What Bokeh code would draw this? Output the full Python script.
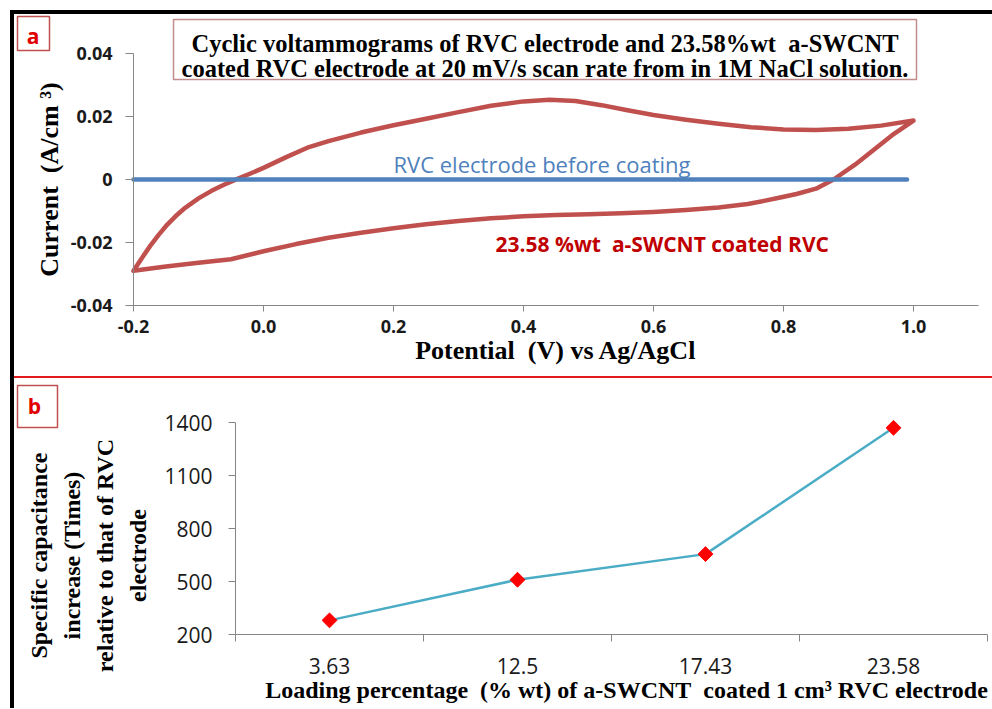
import numpy as np
from bokeh.plotting import figure
from bokeh.models import Label, FixedTicker, Range1d, Spacer, BoxAnnotation
from bokeh.layouts import column, row
from bokeh.embed import file_html
from bokeh.resources import INLINE

# ---------------- Panel a data (cyclic voltammograms) ----------------
cv_forward_potential = [-0.2, -0.187, -0.174, -0.161, -0.148, -0.135, -0.12, -0.1, -0.08, -0.06, -0.04,
                        -0.02, 0.0, 0.035, 0.07, 0.1, 0.15, 0.2, 0.25, 0.3, 0.35, 0.4, 0.44, 0.48, 0.52,
                        0.56, 0.6, 0.65, 0.7, 0.75, 0.8, 0.85, 0.9, 0.95, 1.0]
cv_forward_current = [-0.029, -0.0249, -0.021, -0.0175, -0.0143, -0.0116, -0.0089, -0.006, -0.0036, -0.0016,
                      0.0002, 0.0019, 0.0037, 0.0071, 0.0103, 0.0122, 0.0149, 0.0172, 0.0193, 0.0214, 0.0234,
                      0.0248, 0.0253, 0.0249, 0.0236, 0.022, 0.0205, 0.019, 0.0177, 0.0166, 0.0159, 0.0157,
                      0.0161, 0.0171, 0.0187]
cv_reverse_potential = [1.0, 0.97, 0.94, 0.91, 0.877, 0.85, 0.82, 0.795, 0.77, 0.745, 0.7, 0.65, 0.6, 0.55,
                        0.5, 0.45, 0.4, 0.35, 0.3, 0.25, 0.2, 0.15, 0.1, 0.05, 0.0, -0.05, -0.1, -0.15, -0.2]
cv_reverse_current = [0.0187, 0.0145, 0.0096, 0.0047, 0.0, -0.0029, -0.0046, -0.0057, -0.0068, -0.0078,
                      -0.0089, -0.0097, -0.0103, -0.0107, -0.011, -0.0113, -0.0117, -0.0123, -0.0132, -0.0142,
                      -0.0155, -0.0169, -0.0185, -0.0205, -0.0228, -0.0253, -0.0264, -0.0276, -0.029]
bare_potential = [-0.2, 0.99]
bare_current = [0.0, 0.0]

a_xticks = [-0.2, 0.0, 0.2, 0.4, 0.6, 0.8, 1.0]
a_xtick_labels = ["-0.2", "0.0", "0.2", "0.4", "0.6", "0.8", "1.0"]
a_yticks = [-0.04, -0.02, 0, 0.02, 0.04]
a_ytick_labels = ["-0.04", "-0.02", "0", "0.02", "0.04"]

# ---------------- Panel b data ----------------
loading_labels = ["3.63", "12.5", "17.43", "23.58"]
capacitance_increase = [280, 510, 655, 1370]
b_yticks = [200, 500, 800, 1100, 1400]

AX = "#868686"
SERIF = "Liberation Serif"
SANS = "Open Sans"
NB = "\u00a0"

# ---------------- geometry (pixels) ----------------
ORIGIN_X, A_TOP, B_TOP = 14, 14, 378
W, A_H, B_H = 978, 362, 330
A_L, A_R, A_T, A_B = 133, 978, 53, 305
A_XMIN, A_XMAX, A_YMIN, A_YMAX = -0.2, 1.1, -0.04, 0.04
B_L, B_R, B_T, B_B = 235, 987, 422, 634
B_XMIN, B_XMAX, B_YMIN, B_YMAX = 0, 4, 200, 1400


def make_ranges(L, R, T, B, xmin, xmax, ymin, ymax, top, h):
    sx = (xmax - xmin) / (R - L)
    sy = (ymax - ymin) / (B - T)
    xr = Range1d(xmin - (L - ORIGIN_X) * sx, xmax + (ORIGIN_X + W - R) * sx)
    yr = Range1d(ymin - (top + h - B) * sy, ymax + (T - top) * sy)
    to_x = lambda px: xmin + (px - L) * sx
    to_y = lambda py: ymax - (py - T) * sy
    return xr, yr, to_x, to_y


def style_axis(ax, font_size, bold, tick_out):
    ax.axis_line_color = AX
    ax.axis_line_width = 1
    ax.major_tick_line_color = AX
    ax.major_tick_in = 0
    ax.major_tick_out = tick_out
    ax.minor_tick_line_color = None
    ax.major_label_text_font = SANS
    ax.major_label_text_font_size = font_size
    ax.major_label_text_font_style = "bold" if bold else "normal"
    ax.major_label_text_color = "#1a1a1a"
    ax.axis_label_text_font = SERIF
    ax.axis_label_text_font_style = "bold"
    ax.axis_label_text_color = "black"


def framed_box(fig, fx, fy, l, r, t, b, color):
    fig.add_layout(BoxAnnotation(left=fx(l), right=fx(r), top=fy(t), bottom=fy(b),
                                 fill_color="white", fill_alpha=1.0,
                                 line_color=color, line_width=1.5, line_alpha=1.0))


# ---------------- Panel a ----------------
xr, yr, ax_px, ay_px = make_ranges(A_L, A_R, A_T, A_B, A_XMIN, A_XMAX, A_YMIN, A_YMAX, A_TOP, A_H)
pa = figure(width=W, height=A_H, x_range=xr, y_range=yr, output_backend="svg", toolbar_location=None,
            min_border=0)
pa.outline_line_color = None
pa.xgrid.visible = False
pa.ygrid.visible = False

pa.xaxis.fixed_location = A_YMIN
pa.xaxis.bounds = (A_XMIN, A_XMAX)
pa.yaxis.fixed_location = A_XMIN
pa.yaxis.bounds = (A_YMIN, A_YMAX)
pa.xaxis.ticker = FixedTicker(ticks=a_xticks)
pa.xaxis.major_label_overrides = dict(zip(a_xticks, a_xtick_labels))
pa.yaxis.ticker = FixedTicker(ticks=a_yticks)
pa.yaxis.major_label_overrides = dict(zip(a_yticks, a_ytick_labels))
style_axis(pa.xaxis[0], "18px", True, 6)
style_axis(pa.yaxis[0], "18px", True, 8)
pa.xaxis.major_label_standoff = 8
pa.yaxis.major_label_standoff = 13
pa.xaxis.axis_label = "Potential" + NB + " (V) vs Ag/AgCl"
pa.yaxis.axis_label = "Current" + NB + " (A/cm \u00b3)"
pa.xaxis.axis_label_text_font_size = "26px"
pa.yaxis.axis_label_text_font_size = "26px"
pa.xaxis.axis_label_standoff = 0
pa.yaxis.axis_label_standoff = 4

pa.line(cv_forward_potential + cv_reverse_potential, cv_forward_current + cv_reverse_current,
        line_color="#C0504D", line_width=4.5, line_join="round", line_cap="round")
pa.line(bare_potential, bare_current, line_color="#4F81BD", line_width=4.5, line_cap="round")

pa.add_layout(Label(x=ax_px(393), y=ay_px(163), text="RVC electrode before coating", text_font=SANS,
                    text_font_size="22px", text_color="#4F81BD", text_baseline="middle"))
pa.add_layout(Label(x=ax_px(495), y=ay_px(243.5), text="23.58 %wt" + NB + " a-SWCNT coated RVC",
                    text_font=SANS, text_font_size="21px", text_font_style="bold", text_color="#C00000",
                    text_baseline="middle"))

# title box (two lines)
framed_box(pa, ax_px, ay_px, 173, 916, 19, 79, "#C08C8C")
pa.add_layout(Label(x=ax_px(544.5), y=ay_px(42.5),
                    text="Cyclic voltammograms of RVC electrode and 23.58%wt" + NB + " a-SWCNT",
                    text_font=SERIF, text_font_size="24.5px", text_font_style="bold", text_color="black",
                    text_align="center", text_baseline="middle"))
pa.add_layout(Label(x=ax_px(544.5), y=ay_px(67.8),
                    text="coated RVC electrode at 20 mV/s scan rate from in 1M NaCl solution.",
                    text_font=SERIF, text_font_size="24.5px", text_font_style="bold", text_color="black",
                    text_align="center", text_baseline="middle"))

# panel tag "a"
framed_box(pa, ax_px, ay_px, 17, 49, 16, 50, "#C0504D")
pa.add_layout(Label(x=ax_px(32.5), y=ay_px(35), text="a", text_font=SANS, text_font_size="21px",
                    text_font_style="bold", text_color="#E00000", text_align="center",
                    text_baseline="middle"))

# ---------------- Panel b ----------------
xr, yr, bx_px, by_px = make_ranges(B_L, B_R, B_T, B_B, B_XMIN, B_XMAX, B_YMIN, B_YMAX, B_TOP, B_H)
pb = figure(width=W, height=B_H, x_range=xr, y_range=yr, output_backend="svg", toolbar_location=None,
            min_border=0)
pb.outline_line_color = None
pb.xgrid.visible = False
pb.ygrid.visible = False

cat_pos = [i + 0.5 for i in range(len(loading_labels))]
pb.xaxis.fixed_location = B_YMIN
pb.xaxis.bounds = (B_XMIN, B_XMAX)
pb.yaxis.fixed_location = B_XMIN
pb.yaxis.bounds = (B_YMIN, B_YMAX)
pb.xaxis.ticker = FixedTicker(ticks=cat_pos, minor_ticks=list(range(len(loading_labels) + 1)))
pb.xaxis.major_label_overrides = dict(zip(cat_pos, loading_labels))
pb.yaxis.ticker = FixedTicker(ticks=b_yticks)
style_axis(pb.xaxis[0], "21px", False, 0)
style_axis(pb.yaxis[0], "21px", False, 7)
pb.xaxis.minor_tick_line_color = AX
pb.xaxis.minor_tick_in = 0
pb.xaxis.minor_tick_out = 7
pb.xaxis.major_label_standoff = 16
pb.yaxis.major_label_standoff = 16

pad_lead = NB * 5
pad_trail = NB * 9
pb.xaxis.axis_label = (pad_lead + "Loading percentage" + NB + " (% wt) of a-SWCNT" + NB +
                       " coated 1 cm\u00b3 RVC electrode")
pb.yaxis.axis_label = "\n".join(line + pad_trail for line in
                                ["Specific capacitance", "increase (Times)", "relative to that of RVC",
                                 "electrode"])
pb.xaxis.axis_label_text_font_size = "24px"
pb.yaxis.axis_label_text_font_size = "24px"
pb.xaxis.axis_label_standoff = 0
pb.yaxis.axis_label_standoff = 10
pb.yaxis.axis_label_text_line_height = 1.28

pb.line(cat_pos, capacitance_increase, line_color="#4BACC6", line_width=2.5)
pb.scatter(cat_pos, capacitance_increase, marker="square", angle=np.pi / 4, size=10.5,
           fill_color="#FF0000", line_color="#FF0000")

framed_box(pb, bx_px, by_px, 17, 57, 385, 427, "#C0504D")
pb.add_layout(Label(x=bx_px(34), y=by_px(405.5), text="b", text_font=SANS, text_font_size="21px",
                    text_font_style="bold", text_color="#E00000", text_align="center",
                    text_baseline="middle"))

# ---------------- Layout with borders ----------------
top_bar = Spacer(width=982, height=4, styles={"background-color": "black"})
left_bar = Spacer(width=4, height=A_H + 2 + B_H, styles={"background-color": "black"})
red_bar = Spacer(width=W, height=2, styles={"background-color": "#E31A1C"})
inner = column(pa, red_bar, pb, spacing=0)
body = column(top_bar, row(left_bar, inner, spacing=0), spacing=0)
p = column(Spacer(height=10), row(Spacer(width=10), body, spacing=0), spacing=0)

open("out.html", "w").write(file_html(p, INLINE))
